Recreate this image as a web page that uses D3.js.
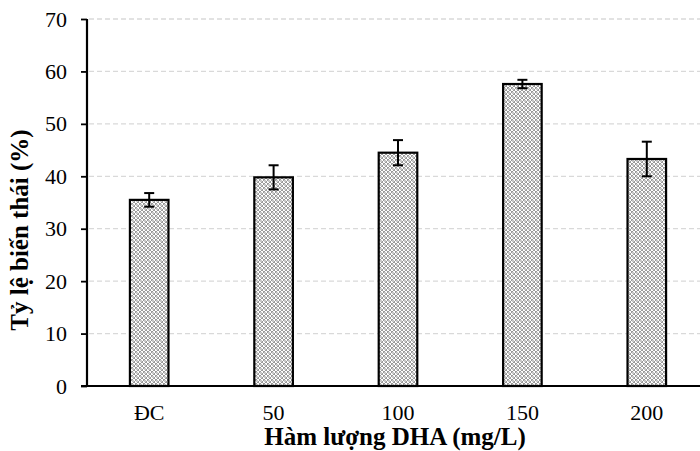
<!DOCTYPE html>
<html>
<head>
<meta charset="utf-8">
<script src="https://cdn.jsdelivr.net/npm/d3@7"></script>
<style>
  body { margin: 0; background: #fff; }
  text { font-family: "Liberation Serif", "Times New Roman", serif; }
</style>
</head>
<body>
<svg id="chart" width="700" height="451"></svg>
<script>
// data
var categories = ["ĐC", "50", "100", "150", "200"];
var values = [35.5, 39.8, 44.5, 57.6, 43.3];
var errors = [1.3, 2.3, 2.4, 0.8, 3.3];
var yTicks = [0, 10, 20, 30, 40, 50, 60, 70];

var svg = d3.select("#chart");

var margin = {top: 19, left: 87, bottom: 65};
var height = 451 - margin.top - margin.bottom;

// dotted fill for the bars
var defs = svg.append("defs");
var pat = defs.append("pattern")
    .attr("id", "dots")
    .attr("patternUnits", "userSpaceOnUse")
    .attr("width", 4)
    .attr("height", 4);
pat.append("rect").attr("width", 4).attr("height", 4).attr("fill", "#fff");
pat.append("rect").attr("x", 0).attr("y", 0).attr("width", 2).attr("height", 2).attr("fill", "#9a9a9a");
pat.append("rect").attr("x", 2).attr("y", 2).attr("width", 2).attr("height", 2).attr("fill", "#9a9a9a");
pat.append("rect").attr("x", 1).attr("y", 1).attr("width", 2).attr("height", 2).attr("fill", "#c8c8c8");

var g = svg.append("g")
    .attr("transform", "translate(" + margin.left + "," + margin.top + ")");

var x = d3.scaleBand()
    .domain(categories)
    .range([0, 622])
    .paddingInner(0.69)
    .paddingOuter(0.345);

var y = d3.scaleLinear()
    .domain([0, 70])
    .range([height, 0]);

// gridlines
g.selectAll(".grid")
    .data(yTicks.filter(function(d) { return d > 0; }))
    .enter()
    .append("line")
    .attr("x1", 2)
    .attr("x2", 613)
    .attr("y1", function(d) { return y(d); })
    .attr("y2", function(d) { return y(d); })
    .attr("stroke", "#d9d9d9")
    .attr("stroke-width", 1.3)
    .attr("stroke-dasharray", "5,3");

// bars
g.selectAll(".bar")
    .data(values)
    .enter()
    .append("rect")
    .attr("x", function(d, i) { return x(categories[i]); })
    .attr("y", function(d) { return y(d); })
    .attr("width", x.bandwidth())
    .attr("height", function(d) { return height - y(d); })
    .attr("fill", "url(#dots)")
    .attr("stroke", "#000")
    .attr("stroke-width", 2.2);

// error bars
var eb = g.selectAll(".err")
    .data(values)
    .enter()
    .append("g")
    .attr("transform", function(d, i) {
        return "translate(" + (x(categories[i]) + x.bandwidth() / 2) + ",0)";
    });
eb.append("line")
    .attr("y1", function(d, i) { return y(d + errors[i]); })
    .attr("y2", function(d, i) { return y(d - errors[i]); })
    .attr("stroke", "#000").attr("stroke-width", 2);
eb.append("line")
    .attr("x1", -5).attr("x2", 5)
    .attr("y1", function(d, i) { return y(d + errors[i]); })
    .attr("y2", function(d, i) { return y(d + errors[i]); })
    .attr("stroke", "#000").attr("stroke-width", 2);
eb.append("line")
    .attr("x1", -5).attr("x2", 5)
    .attr("y1", function(d, i) { return y(d - errors[i]); })
    .attr("y2", function(d, i) { return y(d - errors[i]); })
    .attr("stroke", "#000").attr("stroke-width", 2);

// y axis
var yAxis = g.append("g")
    .attr("font-size", 22)
    .attr("font-family", "'Liberation Serif', serif")
    .call(d3.axisLeft(y).tickValues(yTicks).tickSize(6).tickPadding(14));
yAxis.attr("font-size", 22).attr("font-family", "'Liberation Serif', serif");
yAxis.select(".domain").attr("stroke-width", 2.2).attr("d", "M0," + height + "V0");
yAxis.selectAll(".tick line").attr("stroke-width", 1.8);
yAxis.selectAll("text").attr("fill", "#000");

// x axis
var xAxis = g.append("g")
    .attr("transform", "translate(0," + height + ")")
    .call(d3.axisBottom(x).tickSize(0).tickPadding(18));
xAxis.attr("font-size", 22).attr("font-family", "'Liberation Serif', serif");
xAxis.select(".domain").attr("stroke-width", 2.2).attr("d", "M-6,0H613");
xAxis.selectAll("text").attr("fill", "#000");

// axis titles
svg.append("text")
    .attr("x", 395)
    .attr("y", 445)
    .attr("text-anchor", "middle")
    .attr("font-size", 25)
    .attr("font-weight", "bold")
    .text("Hàm lượng DHA (mg/L)");

svg.append("text")
    .attr("transform", "translate(28,230) rotate(-90)")
    .attr("text-anchor", "middle")
    .attr("font-size", 25)
    .attr("font-weight", "bold")
    .text("Tỷ lệ biến thái (%)");
</script>
</body>
</html>
